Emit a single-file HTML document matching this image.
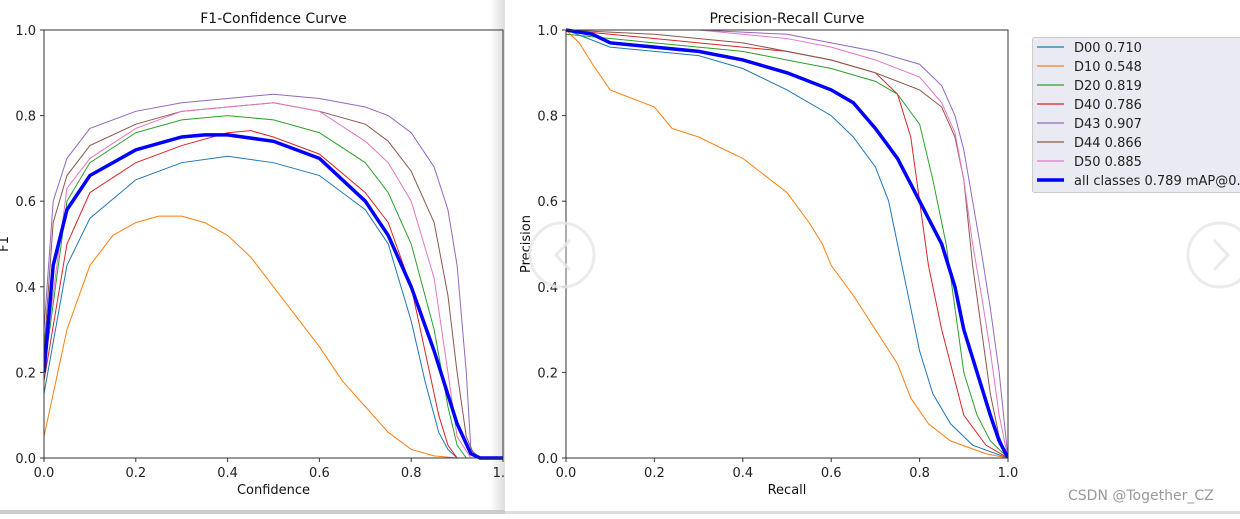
<!DOCTYPE html>
<html><head><meta charset="utf-8"><style>
body{margin:0;width:1240px;height:514px;overflow:hidden;background:#fff;font-family:"Liberation Sans","DejaVu Sans",sans-serif;}
svg text{font-family:"DejaVu Sans","Liberation Sans",sans-serif;}
</style></head><body>
<svg id="s" width="1240" height="514" xmlns="http://www.w3.org/2000/svg">
<defs><linearGradient id="sh" x1="0" x2="1"><stop offset="0" stop-color="#fff"/><stop offset="1" stop-color="#ddd"/></linearGradient></defs>
<rect x="490" y="0" width="15" height="514" fill="url(#sh)"/>
<rect x="0" y="510" width="505" height="4" fill="#ccc"/>
<rect x="505" y="511" width="735" height="3" fill="#ddd"/>
<g id="g"></g>
</svg>
<script>
const colors=['#1f77b4','#ff7f0e','#2ca02c','#d62728','#9467bd','#8c564b','#e377c2','#0000ff'];
const names=['D00 0.710','D10 0.548','D20 0.819','D40 0.786','D43 0.907','D44 0.866','D50 0.885','all classes 0.789 mAP@0.5'];
const ticks=[0,0.2,0.4,0.6,0.8,1.0];
// F1 curves: [confidence, f1]
const f1D00=[[0,.15],[.05,.45],[.1,.56],[.2,.65],[.3,.69],[.4,.705],[.5,.69],[.6,.66],[.7,.58],[.75,.5],[.8,.32],[.83,.18],[.86,.06],[.88,.02],[.9,0],[1,0]];
const f1D10=[[0,.05],[.05,.3],[.1,.45],[.15,.52],[.2,.55],[.25,.565],[.3,.565],[.35,.55],[.4,.52],[.45,.47],[.5,.4],[.55,.33],[.6,.26],[.65,.18],[.7,.12],[.75,.06],[.8,.02],[.85,.005],[.9,0],[1,0]];
const f1D20=[[0,.2],[.05,.6],[.1,.69],[.2,.76],[.3,.79],[.4,.8],[.5,.79],[.6,.76],[.7,.69],[.75,.62],[.8,.5],[.85,.3],[.88,.12],[.9,.03],[.92,0],[1,0]];
const f1D40=[[0,.18],[.05,.5],[.1,.62],[.2,.69],[.3,.73],[.4,.76],[.45,.765],[.5,.75],[.6,.71],[.7,.62],[.75,.55],[.8,.4],[.83,.25],[.86,.1],[.88,.03],[.9,0],[1,0]];
const f1D43=[[0,.3],[.02,.6],[.05,.7],[.1,.77],[.2,.81],[.3,.83],[.4,.84],[.5,.85],[.6,.84],[.7,.82],[.75,.8],[.8,.76],[.85,.68],[.88,.58],[.9,.45],[.92,.2],[.93,.02],[.95,0],[1,0]];
const f1D44=[[0,.25],[.02,.55],[.05,.66],[.1,.73],[.2,.78],[.3,.81],[.4,.82],[.5,.83],[.6,.81],[.7,.78],[.75,.74],[.8,.67],[.85,.55],[.88,.38],[.9,.2],[.92,.05],[.94,0],[1,0]];
const f1D50=[[0,.22],[.05,.63],[.1,.7],[.2,.77],[.3,.81],[.4,.82],[.5,.83],[.6,.81],[.7,.74],[.75,.69],[.8,.6],[.85,.42],[.88,.2],[.9,.05],[.93,0],[1,0]];
const f1All=[[0,.2],[.02,.45],[.05,.58],[.1,.66],[.2,.72],[.3,.75],[.35,.755],[.4,.755],[.5,.74],[.6,.7],[.7,.6],[.75,.52],[.8,.4],[.85,.25],[.9,.08],[.93,.01],[.95,0],[1,0]];
// PR curves: [recall, precision]
const prD00=[[0,1],[.1,.96],[.3,.94],[.4,.91],[.5,.86],[.6,.8],[.65,.75],[.7,.68],[.73,.6],[.76,.45],[.78,.35],[.8,.25],[.83,.15],[.87,.08],[.92,.03],[1,0]];
const prD10=[[0,1],[.03,.97],[.06,.92],[.1,.86],[.2,.82],[.24,.77],[.3,.75],[.4,.7],[.5,.62],[.55,.55],[.58,.5],[.6,.45],[.65,.38],[.7,.3],[.75,.22],[.78,.14],[.82,.08],[.87,.04],[.95,.01],[1,0]];
const prD20=[[0,.99],[.2,.97],[.4,.95],[.5,.93],[.6,.91],[.7,.88],[.75,.85],[.8,.78],[.83,.65],[.86,.5],[.88,.35],[.9,.2],[.93,.1],[.96,.04],[1,0]];
const prD40=[[0,1],[.1,.99],[.3,.97],[.5,.95],[.6,.93],[.7,.9],[.75,.85],[.78,.75],[.8,.6],[.82,.45],[.85,.3],[.88,.18],[.9,.1],[.95,.03],[1,0]];
const prD43=[[0,1],[.3,1],[.5,.99],[.6,.97],[.7,.95],[.8,.92],[.85,.87],[.88,.8],[.9,.72],[.92,.6],[.94,.48],[.96,.35],[.98,.2],[1,0]];
const prD44=[[0,1],[.2,.99],[.4,.97],[.6,.93],[.7,.9],[.8,.86],[.85,.82],[.88,.75],[.9,.65],[.92,.45],[.94,.3],[.96,.15],[.98,.05],[1,0]];
const prD50=[[0,1],[.3,1],[.5,.98],[.6,.96],[.7,.93],[.8,.89],[.85,.83],[.88,.76],[.9,.65],[.92,.5],[.94,.38],[.96,.25],[.98,.1],[1,0]];
const prAll=[[0,1],[.06,.99],[.1,.97],[.2,.96],[.3,.95],[.4,.93],[.5,.9],[.6,.86],[.65,.83],[.7,.77],[.75,.7],[.8,.6],[.85,.5],[.88,.4],[.9,.3],[.93,.2],[.96,.1],[.98,.04],[1,0]];
const f1Series=[f1D00,f1D10,f1D20,f1D40,f1D43,f1D44,f1D50,f1All];
const prSeries=[prD00,prD10,prD20,prD40,prD43,prD44,prD50,prAll];

const NS='http://www.w3.org/2000/svg';const g=document.getElementById('g');
function el(t,a,p){const e=document.createElementNS(NS,t);for(const k in a)e.setAttribute(k,a[k]);(p||g).appendChild(e);return e;}
function plot(x0,x1,y0,y1,series,title,xl,yl,key,clipRight){
  const sx=v=>x0+v*(x1-x0), sy=v=>y0-v*(y0-y1);
  const grp=el('g',{});
  
  
  const cp=el('clipPath',{id:'c'+key},grp);el('rect',{x:x0,y:y1-3,width:x1-x0,height:y0-y1+6},cp);
  series.forEach((s,i)=>{
    const p=el('polyline',{points:s.map(d=>sx(d[0])+','+sy(d[1])).join(' '),fill:'none',stroke:colors[i],'stroke-width':i==7?3.5:1,'clip-path':'url(#c'+key+')'},grp);
    
    
  });
  const fr=el('rect',{x:x0,y:y1,width:x1-x0,height:y0-y1,fill:'none',stroke:'#333','stroke-width':1},grp);
  
  
  ticks.forEach(t=>{
    el('line',{x1:x0-4,x2:x0,y1:sy(t),y2:sy(t),stroke:'#333'},grp);
    const ty=el('text',{x:x0-8,y:sy(t)+5,'text-anchor':'end','font-size':13,fill:'#222'},grp);ty.textContent=t.toFixed(1);
    
    
    el('line',{x1:sx(t),x2:sx(t),y1:y0,y2:y0+4,stroke:'#333'},grp);
    let lbl=t.toFixed(1);
    const tx=el('text',{x:sx(t),y:y0+19,'text-anchor':'middle','font-size':13,fill:'#222'},grp);tx.textContent=lbl;
    
    
  });
  const tt=el('text',{x:(x0+x1)/2,y:y1-7,'text-anchor':'middle','font-size':14,fill:'#111'},grp);tt.textContent=title;
  
  
  const xt=el('text',{x:(x0+x1)/2,y:y0+36,'text-anchor':'middle','font-size':13,fill:'#111'},grp);xt.textContent=xl;
  
  
  const yx=x0-36, yy=(y0+y1)/2;
  const yt=el('text',{x:yx,y:yy,'text-anchor':'middle','font-size':13,fill:'#111',transform:'rotate(-90 '+yx+' '+yy+')'},grp);yt.textContent=yl;
  
  
}
plot(44,503,458,30,f1Series,'F1-Confidence Curve','Confidence','F1','f1');
// cover left panel past its edge with white right panel
const cov=el('rect',{x:505,y:0,width:735,height:510,fill:'#fff'});


plot(566,1008,458,30,prSeries,'Precision-Recall Curve','Recall','Precision','pr');
// legend
const lg=el('g',{});


el('rect',{x:1032.5,y:37.5,width:220,height:155,fill:'#eaeaf2',stroke:'#ccc',rx:2},lg);
names.forEach((n,i)=>{
  const y=47+i*19;
  el('line',{x1:1037,x2:1064,y1:y,y2:y,stroke:colors[i],'stroke-width':i==7?3.5:1.3},lg);
  const t=el('text',{x:1074,y:y+5,'font-size':13,fill:'#222'},lg);t.textContent=n;
  
  
});
// carousel arrows
[[562,255,'prev-arrow','M570,240 L556,255 L570,270'],[1220,255,'next-arrow','M1214,240 L1228,255 L1214,270']].forEach(a=>{
  const c=el('g',{opacity:0.85});
  
  
  el('circle',{cx:a[0],cy:a[1],r:32,fill:'rgba(255,255,255,0.25)',stroke:'#e8e8e8','stroke-width':3},c);
  el('path',{d:a[3],fill:'none',stroke:'#e8e8e8','stroke-width':3},c);
});
const wm=el('text',{x:1068,y:500,'font-size':14,fill:'#999'});wm.textContent='CSDN @Together_CZ';


</script>
</body></html>
